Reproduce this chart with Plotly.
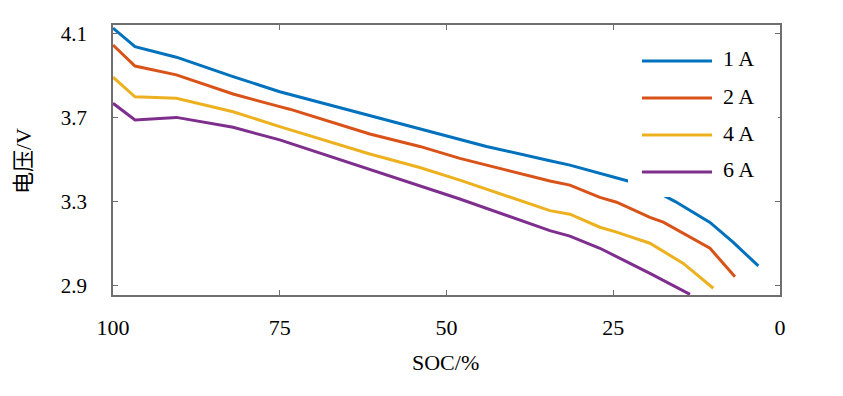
import plotly.graph_objects as go

# ---- data ----
series_names = ["1 A", "2 A", "4 A", "6 A"]
series_colors = ["#0072BD", "#D95319", "#EDB120", "#7E2F8E"]

soc_1a = [100, 96.7, 90.5, 82, 75, 61.5, 54, 48, 44, 34.5, 31.5, 22.8, 19, 15.7, 10.5, 7.0, 3.25]
v_1a = [4.124, 4.036, 3.986, 3.894, 3.822, 3.708, 3.644, 3.593, 3.562, 3.494, 3.473, 3.398, 3.355, 3.300, 3.201, 3.106, 2.994]

soc_2a = [100, 96.7, 90.5, 82, 75, 73.5, 61.5, 54, 48, 34.5, 31.5, 27, 24.5, 19.5, 17.5, 12, 10.5, 6.75]
v_2a = [4.044, 3.944, 3.902, 3.811, 3.751, 3.739, 3.621, 3.562, 3.505, 3.398, 3.378, 3.320, 3.297, 3.225, 3.202, 3.106, 3.078, 2.943]

soc_4a = [100, 96.7, 90.5, 82, 75, 61.5, 54, 48, 34.5, 31.5, 27, 24.5, 19.5, 17, 14.5, 10]
v_4a = [3.891, 3.798, 3.791, 3.727, 3.656, 3.526, 3.462, 3.402, 3.257, 3.240, 3.178, 3.155, 3.102, 3.054, 3.006, 2.888]

soc_6a = [100, 96.7, 90.5, 82, 75, 61.5, 54, 48, 34.5, 31.5, 27, 24.5, 19.5, 13.5]
v_6a = [3.767, 3.688, 3.700, 3.653, 3.593, 3.451, 3.372, 3.312, 3.162, 3.136, 3.078, 3.038, 2.959, 2.859]

x_ticks = [100, 75, 50, 25, 0]
y_ticks = [2.9, 3.3, 3.7, 4.1]
x_title = "SOC/%"
y_title = "电压/V"

all_soc = [soc_1a, soc_2a, soc_4a, soc_6a]
all_v = [v_1a, v_2a, v_4a, v_6a]

# ---- layout geometry (page pixels; page body has an 8px margin) ----
OFF = 8
W, H = 843 - OFF, 396 - OFF
L, R, T, B = 113, 780, 25, 295  # plot area in page px
serif = "'Liberation Serif', 'Times New Roman', 'DejaVu Serif', serif"
cjk = "'Liberation Serif', 'Noto Sans CJK SC', serif"
axis_gray = "#6e6e6e"

def px_x(px):
    return (px - L) / (R - L)

def px_y(py):
    return (B - py) / (B - T)

fig = go.Figure()
for name, color, xs, ys in zip(series_names, series_colors, all_soc, all_v):
    fig.add_trace(go.Scatter(x=xs, y=ys, mode="lines", name=name,
                             line=dict(color=color, width=3), showlegend=False))

shapes = []
annotations = []
# legend background (covers the line behind the legend)
shapes.append(dict(type="rect", xref="paper", yref="paper",
                   x0=px_x(628), x1=px_x(778), y0=px_y(197), y1=px_y(40),
                   fillcolor="white", line=dict(width=0), layer="above"))
leg_y = [61, 98, 135, 172]
for name, color, ly in zip(series_names, series_colors, leg_y):
    shapes.append(dict(type="line", xref="paper", yref="paper",
                       x0=px_x(642), x1=px_x(712), y0=px_y(ly), y1=px_y(ly),
                       line=dict(color=color, width=3), layer="above"))
    annotations.append(dict(xref="paper", yref="paper", x=px_x(721), y=px_y(ly - 2),
                            text=name, showarrow=False, xanchor="left", yanchor="middle",
                            font=dict(family=serif, size=22, color="black")))

annotations.append(dict(xref="paper", yref="paper", x=px_x(445), y=px_y(362),
                        text=x_title, showarrow=False, xanchor="center", yanchor="middle",
                        font=dict(family=serif, size=22, color="black")))
annotations.append(dict(xref="paper", yref="paper", x=px_x(23), y=px_y(161),
                        text=y_title, showarrow=False, xanchor="center", yanchor="middle",
                        textangle=-90,
                        font=dict(family=cjk, size=22, color="black")))

fig.update_layout(
    width=W, height=H,
    margin=dict(l=L - OFF, r=W - (R - OFF), t=T - OFF, b=H - (B - OFF), pad=0),
    plot_bgcolor="white", paper_bgcolor="white",
    shapes=shapes, annotations=annotations,
    showlegend=False,
    font=dict(family=serif),
)
fig.update_xaxes(range=[100, 0], tickvals=x_ticks, ticktext=[str(v) for v in x_ticks],
                 showgrid=False, zeroline=False, showline=True, linecolor=axis_gray, linewidth=1.5,
                 mirror="ticks", ticks="inside", ticklen=5, tickcolor=axis_gray, tickwidth=1,
                 ticklabelstandoff=12, automargin=False,
                 tickfont=dict(family=serif, size=22, color="black"))
fig.update_yaxes(range=[2.856, 4.139], tickvals=y_ticks, ticktext=[f"{v:.1f}" for v in y_ticks],
                 showgrid=False, zeroline=False, showline=True, linecolor=axis_gray, linewidth=1.5,
                 mirror="ticks", ticks="inside", ticklen=5, tickcolor=axis_gray, tickwidth=1,
                 ticklabelstandoff=20, automargin=False,
                 tickfont=dict(family=serif, size=21, color="black"))

fig.write_html("out.html")
